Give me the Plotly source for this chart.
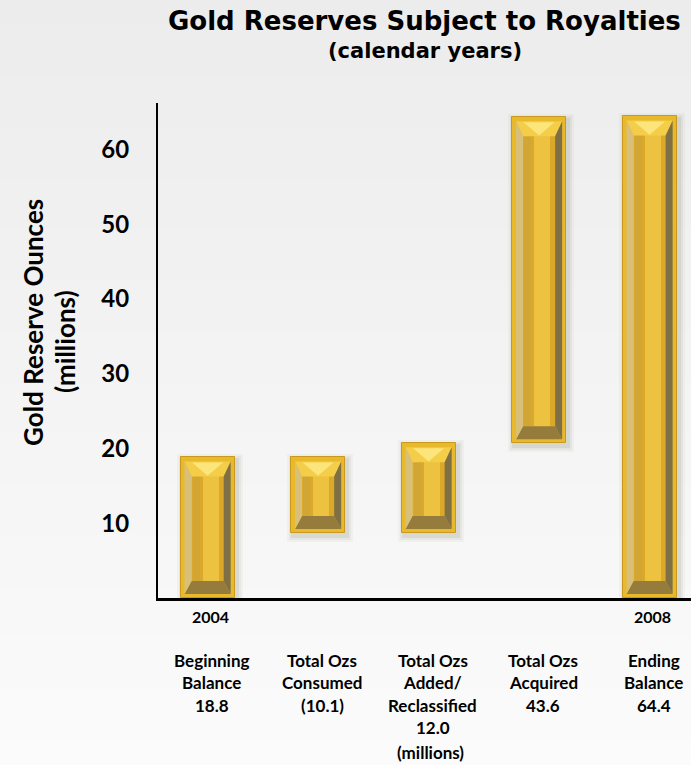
import plotly.graph_objects as go

# ---- data -------------------------------------------------------------
category_lines = [
    ["Beginning", "Balance"],
    ["Total Ozs", "Consumed"],
    ["Total Ozs", "Added/", "Reclassified"],
    ["Total Ozs", "Acquired"],
    ["Ending", "Balance"],
]
changes = [18.8, -10.1, 12.0, 43.6, 64.4]          # millions of ounces
kinds = ["total", "delta", "delta", "delta", "total"]
year_labels = ["2004", "", "", "", "2008"]
y_ticks = [10, 20, 30, 40, 50, 60]

# ---- layout geometry (pixels) ------------------------------------------
W, H = 691, 765
M_L, M_R, M_T, M_B = 158, 0, 103, 167
X_RANGE = [-0.449, 4.375]
Y_RANGE = [0, 66.2]
PX_X = (W - M_L - M_R) / (X_RANGE[1] - X_RANGE[0])   # px per x unit
PX_Y = (H - M_T - M_B) / (Y_RANGE[1] - Y_RANGE[0])   # px per y unit

BAR_W = 0.49
RIM = 4          # flat rim, px
BEVEL_X = 7      # side bevel depth, px
BEVEL_TOP = 15   # top bevel depth, px
BEVEL_BOT = 13   # bottom bevel depth, px

FONT = "Lato"

# ---- waterfall extents ---------------------------------------------------
xs = list(range(len(changes)))
bottoms, tops = [], []
level = 0.0
for v, k in zip(changes, kinds):
    if k == "total":
        lo, hi = 0.0, v
        level = v
    else:
        lo, hi = sorted([level, level + v])
        level = level + v
    bottoms.append(lo)
    tops.append(hi)

value_text = [f"({abs(v):.1f})" if v < 0 else f"{v:.1f}" for v in changes]

fig = go.Figure()

# soft drop shadow under each bar
for grow, alpha in [(6, 0.035), (4, 0.05), (2, 0.07)]:
    gx, gy = grow / PX_X, grow / PX_Y
    fig.add_trace(go.Bar(
        x=[x + 2 / PX_X for x in xs],
        base=[b - 3 / PX_Y - gy for b in bottoms],
        y=[t - b + 2 * gy for b, t in zip(bottoms, tops)],
        width=BAR_W + 2 * gx,
        marker=dict(color=f"rgba(60,50,20,{alpha})", line=dict(width=0)),
        hoverinfo="skip", showlegend=False,
    ))

# outer rim
fig.add_trace(go.Bar(
    x=xs, base=bottoms, y=[t - b for b, t in zip(bottoms, tops)],
    width=BAR_W,
    marker=dict(color="#E9B92C", line=dict(color="#C9981E", width=1)),
    hoverinfo="skip", showlegend=False,
))

rx, ry = RIM / PX_X, RIM / PX_Y
bx = BEVEL_X / PX_X
byt, byb = BEVEL_TOP / PX_Y, BEVEL_BOT / PX_Y

# inner face, plus a lighter vertical sheen
inner_w = BAR_W - 2 * rx - 2 * bx
inner_base = [b + ry + byb for b in bottoms]
inner_h = [(t - ry - byt) - (b + ry + byb) for b, t in zip(bottoms, tops)]
fig.add_trace(go.Bar(
    x=xs, base=inner_base, y=inner_h, width=inner_w,
    marker=dict(color="#DCA82A", line=dict(width=0)),
    hoverinfo="skip", showlegend=False,
))
fig.add_trace(go.Bar(
    x=[x + 0.1 * inner_w for x in xs], base=inner_base, y=inner_h,
    width=inner_w * 0.5,
    marker=dict(color="#EDC241", line=dict(width=0)),
    hoverinfo="skip", showlegend=False,
))
fig.add_trace(go.Bar(
    x=[x - 0.35 * inner_w for x in xs], base=inner_base, y=inner_h,
    width=inner_w * 0.22,
    marker=dict(color="#D2A635", line=dict(width=0)),
    hoverinfo="skip", showlegend=False,
))

# bevel faces around the inner face
faces = {"top": [], "bottom": [], "left": [], "right": []}
for c, b, t in zip(xs, bottoms, tops):
    x0, x1 = c - BAR_W / 2 + rx, c + BAR_W / 2 - rx
    y0, y1 = b + ry, t - ry
    xi0, xi1 = x0 + bx, x1 - bx
    yi0, yi1 = y0 + byb, y1 - byt
    faces["top"].append([(x0, y1), (x1, y1), (xi1, yi1), (xi0, yi1)])
    faces["bottom"].append([(x0, y0), (x1, y0), (xi1, yi0), (xi0, yi0)])
    faces["left"].append([(x0, y0), (xi0, yi0), (xi0, yi1), (x0, y1)])
    faces["right"].append([(x1, y0), (xi1, yi0), (xi1, yi1), (x1, y1)])

face_colors = {
    "left": "#D8C07A",
    "right": "#7E6F44",
    "bottom": "#957C3C",
    "top": "#F4CE48",
}
for name, polys in faces.items():
    px, py = [], []
    for poly in polys:
        for (a, b_) in poly + [poly[0]]:
            px.append(a)
            py.append(b_)
        px.append(None)
        py.append(None)
    fig.add_trace(go.Scatter(
        x=px, y=py, mode="lines", fill="toself",
        fillcolor=face_colors[name], line=dict(width=0),
        hoverinfo="skip", showlegend=False,
    ))

# bright glint in the middle of the top bevel
gx_, gy_ = [], []
for c, t in zip(xs, tops):
    y1 = t - ry
    half = (BAR_W / 2 - rx - bx) * 0.75
    gx_ += [c - half - bx * 0.5, c + half + bx * 0.5, c, None]
    gy_ += [y1 - 1 / PX_Y, y1 - 1 / PX_Y, y1 - byt * 0.95, None]
fig.add_trace(go.Scatter(
    x=gx_, y=gy_, mode="lines", fill="toself",
    fillcolor="rgba(255,236,140,0.75)", line=dict(width=0),
    hoverinfo="skip", showlegend=False,
))

# ---- background gradient -----------------------------------------------
shapes = []
N = 60
top_c, bot_c = (236, 236, 236), (251, 251, 251)
for i in range(N):
    f = i / (N - 1)
    col = tuple(round(top_c[k] + (bot_c[k] - top_c[k]) * f) for k in range(3))
    y_hi = 1 + M_T / (H - M_T - M_B) - i * (H / (H - M_T - M_B)) / N
    y_lo = y_hi - (H / (H - M_T - M_B)) / N - 0.002
    shapes.append(dict(
        type="rect", xref="paper", yref="paper", layer="below",
        x0=-M_L / (W - M_L - M_R) - 0.01, x1=1.01, y0=y_lo, y1=y_hi,
        fillcolor="rgb(%d,%d,%d)" % col, line=dict(width=0),
    ))

# ---- text ----------------------------------------------------------------
ann = []
bold = dict(family=FONT, color="black", weight="bold")

ann.append(dict(text="Gold Reserves Subject to Royalties", xref="paper", yref="paper",
                x=0.5, y=1, yshift=M_T - 21, showarrow=False, yanchor="middle",
                font=dict(family="DejaVu Sans", size=26, color="black", weight="bold")))
ann.append(dict(text="(calendar years)", xref="paper", yref="paper",
                x=0.5, y=1, yshift=M_T - 51, showarrow=False, yanchor="middle",
                font=dict(family="DejaVu Sans", size=21, color="black", weight="bold")))

ann.append(dict(text="Gold Reserve Ounces", xref="paper", yref="paper", x=0, y=0,
                xshift=33 - M_L, yshift=(H - M_B) - 323, textangle=-90,
                showarrow=False, xanchor="center", yanchor="middle",
                font=dict(size=26, **bold)))
ann.append(dict(text="(millions)", xref="paper", yref="paper", x=0, y=0,
                xshift=65 - M_L, yshift=(H - M_B) - 342, textangle=-90,
                showarrow=False, xanchor="center", yanchor="middle",
                font=dict(size=26, **bold)))

for x, yr in zip(xs, year_labels):
    if yr:
        ann.append(dict(text=yr, x=x, xref="x", y=0, yref="paper", yshift=-(616 - (H - M_B)),
                        xshift=3, showarrow=False, yanchor="middle",
                        font=dict(size=16, **bold)))

LINE_H = 22.5
for x, lines, vt in zip(xs, category_lines, value_text):
    for j, ln in enumerate(lines + [vt]):
        yc = 660 + j * LINE_H
        ann.append(dict(text=ln, x=x, xref="x", y=0, yref="paper",
                        yshift=-(yc - (H - M_B)), xshift=4, showarrow=False,
                        yanchor="middle", font=dict(size=17, **bold)))

ann.append(dict(text="(millions)", x=2, xref="x", y=0, yref="paper",
                yshift=-(752 - (H - M_B)), xshift=2, showarrow=False,
                yanchor="middle", font=dict(size=17, **bold)))

fig.update_layout(
    width=W, height=H,
    margin=dict(l=M_L, r=M_R, t=M_T, b=M_B, pad=0),
    paper_bgcolor="rgb(246,246,246)",
    plot_bgcolor="rgba(0,0,0,0)",
    barmode="overlay",
    bargap=0,
    showlegend=False,
    shapes=shapes,
    annotations=ann,
    xaxis=dict(range=X_RANGE, showgrid=False, zeroline=False, showticklabels=False,
               showline=True, linecolor="black", linewidth=2.5, ticks="", fixedrange=True),
    yaxis=dict(range=Y_RANGE, showgrid=False, zeroline=False, tickvals=y_ticks,
               showline=True, linecolor="black", linewidth=2, ticks="",
               ticklabelstandoff=22,
               tickfont=dict(family=FONT, size=24, color="black", weight="bold"),
               fixedrange=True),
)

fig.write_html("out.html")
